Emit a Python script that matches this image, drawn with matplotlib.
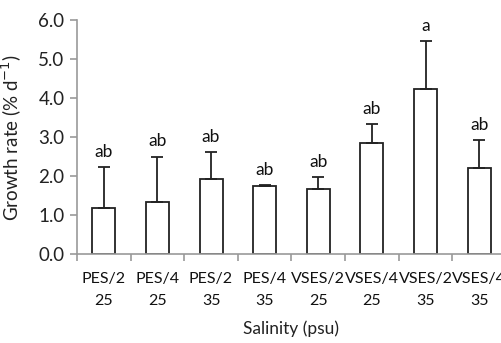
import matplotlib
matplotlib.use("Agg")
import matplotlib.pyplot as plt
import numpy as np

categories = ["PES/2\n25", "PES/4\n25", "PES/2\n35", "PES/4\n35",
              "VSES/2\n25", "VSES/4\n25", "VSES/2\n35", "VSES/4\n35"]
growth = [1.17, 1.34, 1.92, 1.74, 1.66, 2.84, 4.22, 2.20]
err_top = [2.23, 2.50, 2.62, 1.78, 1.98, 3.33, 5.47, 2.92]
letters = ["ab", "ab", "ab", "ab", "ab", "ab", "a", "ab"]
yticks = [0.0, 1.0, 2.0, 3.0, 4.0, 5.0, 6.0]

plt.rcParams['font.family'] = ['Lato', 'DejaVu Sans']

fig = plt.figure(figsize=(5.02, 3.43), dpi=100)
ax = fig.add_axes([77/502, 89/343, 429/502, 234/343])

x = np.arange(len(categories))
errs = [t - g for t, g in zip(err_top, growth)]
ax.bar(x, growth, width=0.43, color='white', edgecolor='#222222', linewidth=1.3, zorder=2)
ax.errorbar(x, growth, yerr=[np.zeros(len(x)), errs], fmt='none', ecolor='#222222',
            elinewidth=1.3, capsize=4, capthick=1.3, zorder=3)
for xi, t, l in zip(x, err_top, letters):
    ax.text(xi, t + 0.18, l, ha='center', va='bottom', fontsize=12.5, color='#111111')

ax.set_xlim(-0.5, 7.5)
ax.set_ylim(0, 6.0)
ax.set_yticks(yticks)
ax.set_yticklabels([f"{v:.1f}" for v in yticks], fontsize=13.5, color='#222222')
ax.set_xticks(x)
ax.set_xticklabels(categories, fontsize=11.5, color='#111111', linespacing=1.75)
ax.set_xticks(np.arange(-0.5, 8.0, 1.0), minor=True)
ax.tick_params(axis='x', which='major', length=0, pad=13)
ax.tick_params(axis='x', which='minor', length=5, color='#999999', width=1.2)
ax.tick_params(axis='y', length=5, color='#999999', width=1.2, pad=4)

for s in ['top', 'right']:
    ax.spines[s].set_visible(False)
for s in ['left', 'bottom']:
    ax.spines[s].set_color('#999999')
    ax.spines[s].set_linewidth(1.2)

ax.set_ylabel("Growth rate (% d$^{-1}$)", fontsize=13.5, color='#222222', labelpad=10)
ax.set_xlabel("Salinity (psu)", fontsize=12.5, color='#222222', labelpad=9)

fig.savefig("out.png", dpi=100)
